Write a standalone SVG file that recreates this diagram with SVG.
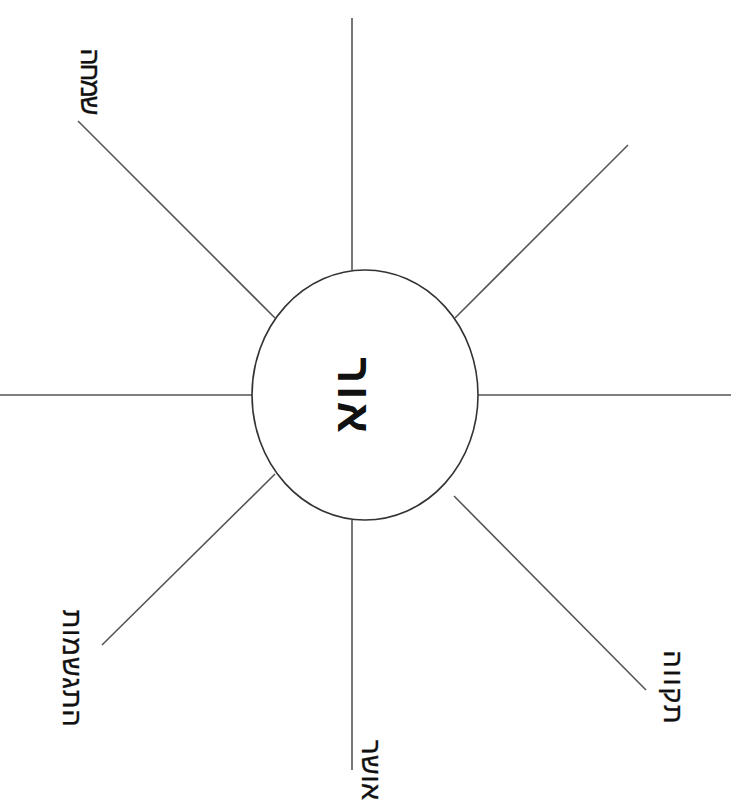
<svg xmlns="http://www.w3.org/2000/svg" width="739" height="804" viewBox="0 0 739 804">
<style>
.ray{stroke:#555;stroke-width:1.6;fill:none}
.lbl{font-family:"Liberation Sans","DejaVu Sans",sans-serif;font-size:27px;fill:#111;stroke:#111;stroke-width:0.3;text-anchor:middle;dominant-baseline:central}
.ctr{font-family:"Liberation Sans","DejaVu Sans",sans-serif;font-size:46px;font-weight:bold;fill:#111;text-anchor:middle;dominant-baseline:central}
</style>
<rect width="739" height="804" fill="#fff"/>
<g id="connectors">
<line class="ray" x1="352" y1="18" x2="352" y2="270"/>
<line class="ray" x1="455" y1="318" x2="628" y2="145"/>
<line class="ray" x1="478" y1="395" x2="731" y2="395"/>
<line class="ray" x1="454" y1="496" x2="646" y2="690"/>
<line class="ray" x1="352" y1="520" x2="352" y2="770"/>
<line class="ray" x1="275" y1="474" x2="102" y2="645"/>
<line class="ray" x1="0" y1="395" x2="252" y2="395"/>
<line class="ray" x1="275" y1="318" x2="78" y2="121"/>
</g>
<g id="center">
<ellipse cx="365" cy="395" rx="113" ry="125" fill="#fff" stroke="#333" stroke-width="1.6"/>
<text class="ctr" transform="translate(354,395) rotate(90)" textLength="76" lengthAdjust="spacing">אור</text>
</g>
<g id="label-simcha">
<text class="lbl" transform="translate(90,82) rotate(90)" textLength="67" lengthAdjust="spacing">שמחה</text>
</g>
<g id="label-hitgashmut">
<text class="lbl" transform="translate(72,668) rotate(90)" textLength="117" lengthAdjust="spacing">התגשמות</text>
</g>
<g id="label-osher">
<text class="lbl" transform="translate(371,770) rotate(90)" textLength="60" lengthAdjust="spacing">אושר</text>
</g>
<g id="label-tikva">
<text class="lbl" transform="translate(673,687) rotate(90)" textLength="73" lengthAdjust="spacing">תקווה</text>
</g>
</svg>
